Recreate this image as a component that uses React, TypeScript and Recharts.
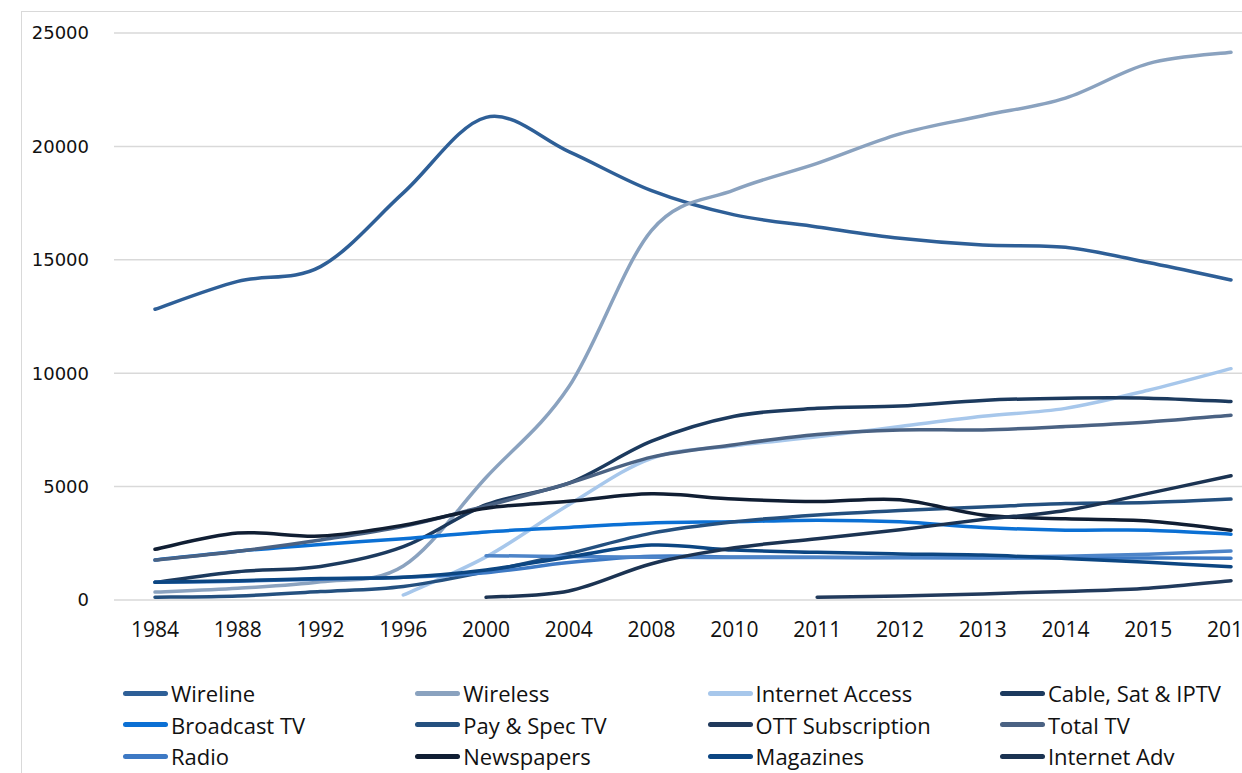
import React from 'react';
import { LineChart, Line, XAxis, YAxis, CartesianGrid, Legend } from 'recharts';

const years = ['1984', '1988', '1992', '1996', '2000', '2004', '2008', '2010', '2011', '2012', '2013', '2014', '2015', '2016'];
const yTicks = [0, 5000, 10000, 15000, 20000, 25000];

const wireline = [12820, 14050, 14700, 17950, 21280, 19770, 18050, 16980, 16450, 15950, 15650, 15550, 14880, 14110];
const wireless = [350, 520, 800, 1500, 5400, 9400, 16300, 18080, 19250, 20550, 21350, 22130, 23650, 24150];
const internetAccess = [null, null, null, 220, 1900, 4200, 6250, 6800, 7200, 7650, 8100, 8450, 9250, 10200];
const cableSatIptv = [780, 1250, 1480, 2350, 4200, 5150, 7000, 8100, 8450, 8550, 8800, 8900, 8900, 8750];
const broadcastTv = [1760, 2150, 2450, 2700, 3000, 3200, 3400, 3450, 3520, 3450, 3200, 3080, 3080, 2900];
const paySpecTv = [120, 180, 370, 600, 1250, 2050, 2950, 3450, 3750, 3950, 4100, 4250, 4300, 4450];
const ottSubscription = [null, null, null, null, null, null, null, null, 120, 180, 270, 380, 520, 850];
const totalTv = [1760, 2150, 2650, 3250, 4150, 5150, 6300, 6850, 7300, 7500, 7500, 7650, 7850, 8150];
const radio = [780, 830, 920, 1000, 1200, 1650, 1930, 1900, 1880, 1860, 1850, 1850, 1850, 1840];
const unlabelled = [null, null, null, null, 1955, 1920, 1880, 1870, 1870, 1880, 1900, 1930, 2020, 2160];
const newspapers = [2235, 2950, 2820, 3300, 4050, 4350, 4680, 4450, 4340, 4420, 3750, 3580, 3480, 3080];
const magazines = [780, 850, 950, 1000, 1320, 1900, 2420, 2200, 2100, 2030, 1980, 1830, 1660, 1470];
const internetAdv = [null, null, null, null, 120, 400, 1600, 2300, 2700, 3100, 3550, 3950, 4700, 5480];

const seriesNames = ['Wireline', 'Wireless', 'Internet Access', 'Cable, Sat & IPTV', 'Broadcast TV', 'Pay & Spec TV', 'OTT Subscription', 'Total TV', 'Radio', 'Newspapers', 'Magazines', 'Internet Adv'];
const seriesColors = ['#2e5f97', '#8aa2bf', '#a7c7eb', '#1c3a5e', '#0b70d4', '#24507f', '#213a5c', '#4a6283', '#3d79c4', '#101e33', '#0c4682', '#1b3352'];
const seriesValues = [wireline, wireless, internetAccess, cableSatIptv, broadcastTv, paySpecTv, ottSubscription, totalTv, radio, newspapers, magazines, internetAdv];
const unlabelledColor = '#4d84c8';

const data = years.map((year, i) => {
  const row: any = { year, extra: unlabelled[i] };
  seriesValues.forEach((vals, k) => {
    row['s' + k] = vals[i];
  });
  return row;
});

// Excel-like smoothed line (Catmull-Rom style Bezier)
function excelCurve(context: any) {
  let pts: number[][] = [];
  return {
    areaStart() {},
    areaEnd() {},
    lineStart() {
      pts = [];
    },
    point(x: number, y: number) {
      pts.push([+x, +y]);
    },
    lineEnd() {
      const n = pts.length;
      if (n === 0) return;
      context.moveTo(pts[0][0], pts[0][1]);
      if (n === 1) {
        context.lineTo(pts[0][0], pts[0][1]);
        return;
      }
      for (let i = 0; i < n - 1; i++) {
        const p0 = pts[i - 1] || pts[i];
        const p1 = pts[i];
        const p2 = pts[i + 1];
        const p3 = pts[i + 2] || p2;
        context.bezierCurveTo(
          p1[0] + (p2[0] - p0[0]) / 6,
          p1[1] + (p2[1] - p0[1]) / 6,
          p2[0] - (p3[0] - p1[0]) / 6,
          p2[1] - (p3[1] - p1[1]) / 6,
          p2[0],
          p2[1]
        );
      }
    },
  };
}

const LEG_COL0 = 123;
const LEG_COL_STEP = 292.3;
const LEG_ROW0 = 23;
const LEG_ROW_STEP = 31.5;

const renderLegend = () => (
  <div style={{ position: 'relative', width: 1242, height: 100 }}>
    {seriesNames.map((name, i) => {
      const col = i % 4;
      const row = Math.floor(i / 4);
      const left = LEG_COL0 + col * LEG_COL_STEP;
      const cy = LEG_ROW0 + row * LEG_ROW_STEP;
      return (
        <div key={name}>
          <div
            style={{
              position: 'absolute',
              left,
              top: cy - 2.5,
              width: 45,
              height: 5,
              borderRadius: 3,
              background: seriesColors[i],
            }}
          />
          <div
            style={{
              position: 'absolute',
              left: left + 48,
              top: cy - 15,
              height: 30,
              lineHeight: '30px',
              fontFamily: '"Open Sans", sans-serif',
              fontSize: 22,
              color: '#111',
              whiteSpace: 'nowrap',
            }}
          >
            {name}
          </div>
        </div>
      );
    })}
  </div>
);

const XTick = (props: any) => {
  const { x, payload } = props;
  return (
    <text x={x} y={637} textAnchor="middle" fontFamily='"Open Sans", sans-serif' fontSize={21} fill="#111">
      {payload.value}
    </text>
  );
};

const YTick = (props: any) => {
  const { y, payload } = props;
  return (
    <text x={89} y={y} dy="0.36em" textAnchor="end" fontFamily='"DejaVu Sans", Verdana, sans-serif' fontSize={18} fill="#111">
      {payload.value}
    </text>
  );
};

export default function App() {
  return (
    <div style={{ position: 'fixed', left: 0, top: 0, width: 1242, height: 773, overflow: 'hidden', background: '#fff' }}>
      <div
        style={{
          position: 'absolute',
          left: 21,
          top: 11,
          width: 2000,
          height: 2000,
          borderLeft: '1.5px solid #d9d9d9',
          borderTop: '1.5px solid #d9d9d9',
          pointerEvents: 'none',
        }}
      />
      <LineChart width={1290} height={773} data={data} margin={{ top: 33, right: 18, bottom: 133, left: 0 }}>
        <CartesianGrid vertical={false} stroke="#d9d9d9" strokeWidth={1.5} />
        <XAxis
          dataKey="year"
          height={40}
          axisLine={false}
          tickLine={false}
          tick={<XTick />}
          interval={0}
          padding={{ left: 41, right: 41 }}
        />
        <YAxis width={114} domain={[0, 25000]} ticks={yTicks} axisLine={false} tickLine={false} tick={<YTick />} />
        <Legend
          layout="horizontal"
          verticalAlign="middle"
          align="center"
          content={renderLegend}
          wrapperStyle={{ left: 0, top: 670, width: 1242, height: 100 }}
        />
        {seriesValues.map((_, k) => {
          const line = (
            <Line
              key={'s' + k}
              dataKey={'s' + k}
              name={seriesNames[k]}
              stroke={seriesColors[k]}
              strokeWidth={3.5}
              strokeLinecap="round"
              strokeLinejoin="round"
              type={excelCurve as any}
              dot={false}
              activeDot={false}
              isAnimationActive={false}
            />
          );
          if (k === 8) {
            return [
              line,
              <Line
                key="extra"
                dataKey="extra"
                name="extra"
                legendType="none"
                stroke={unlabelledColor}
                strokeWidth={3.5}
                strokeLinecap="round"
                strokeLinejoin="round"
                type={excelCurve as any}
                dot={false}
                activeDot={false}
                isAnimationActive={false}
              />,
            ];
          }
          return line;
        })}
      </LineChart>
    </div>
  );
}
